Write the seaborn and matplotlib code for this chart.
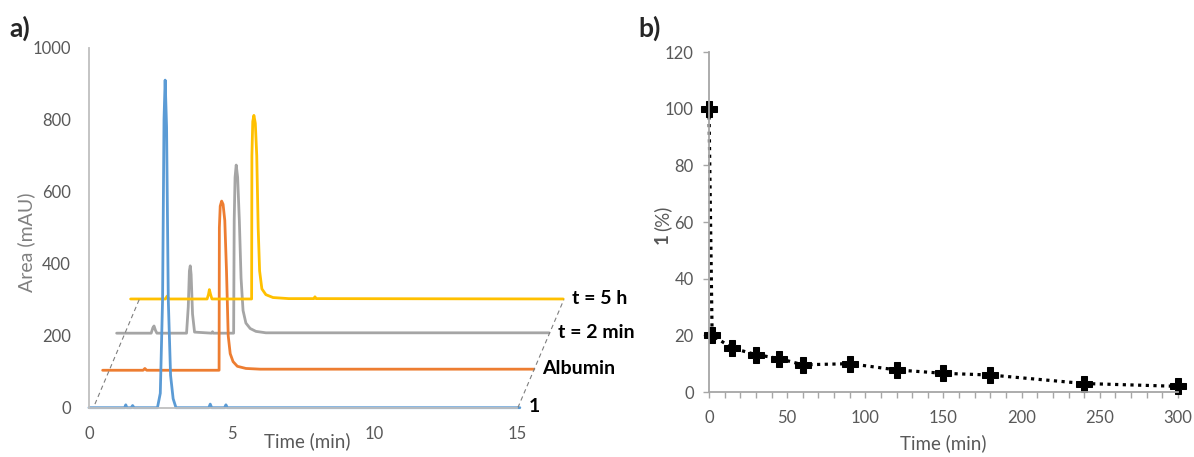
import numpy as np
import pandas as pd
import seaborn as sns
import matplotlib.pyplot as plt
from matplotlib.ticker import MultipleLocator

# chromatograms (panel a), already offset as in the stacked plot
blue_t = [0, 1.25, 1.29, 1.33, 1.48, 1.53, 1.58, 2.40, 2.50, 2.58, 2.63, 2.67, 2.72, 2.78,
          2.86, 2.95, 3.05, 4.20, 4.25, 4.30, 4.75, 4.80, 4.85, 15.1]
blue_y = [0, 0, 8, 0, 0, 6, 0, 0, 40, 300, 800, 910, 780, 300,
          90, 25, 0, 0, 10, 0, 0, 8, 0, 0]

orange_t = [0.48, 1.90, 1.96, 2.02, 4.56, 4.57, 4.60, 4.65, 4.70, 4.76, 4.82, 4.88, 4.95,
            5.05, 5.20, 5.50, 6.00, 15.59]
orange_y = [104, 104, 109, 104, 104, 500, 560, 574, 565, 520, 380, 200, 150,
            128, 115, 109, 107, 107]

gray_t = [0.97, 2.18, 2.24, 2.28, 2.33, 2.38, 3.42, 3.48, 3.52, 3.55, 3.58, 3.63, 3.70,
          4.30, 4.33, 4.36, 5.07, 5.09, 5.12, 5.16, 5.21, 5.27, 5.33, 5.40, 5.50, 5.65,
          5.85, 6.20, 16.12]
gray_y = [207, 207, 222, 227, 215, 207, 207, 280, 380, 394, 370, 260, 210,
          207, 211, 207, 207, 520, 640, 674, 640, 520, 360, 270, 235, 220,
          212, 208, 208]

yellow_t = [1.46, 2.68, 2.74, 2.80, 4.14, 4.19, 4.22, 4.26, 4.31, 5.70, 5.71, 5.74, 5.78,
            5.83, 5.88, 5.93, 5.98, 6.06, 6.20, 6.45, 7.00, 7.88, 7.92, 7.96, 16.62]
yellow_y = [302, 302, 310, 302, 302, 315, 328, 315, 302, 302, 700, 795, 812,
            790, 700, 500, 380, 330, 314, 306, 303, 303, 308, 303, 302]

trace_names = ["1", "Albumin", "t = 2 min", "t = 5 h"]

# dashed guide lines of the stacked view
guide_left_t = [0.21, 1.77]
guide_left_y = [10, 302]
guide_right_t = [15.03, 16.64]
guide_right_y = [0, 300]

# panel b: remaining 1 (%)
time_min = [0, 2, 15, 30, 45, 60, 90, 120, 150, 180, 240, 300]
remaining = [100, 20, 15.5, 13.2, 11.8, 9.6, 10, 7.8, 6.6, 6, 3, 2]

sns.set_theme(style="ticks")
plt.rcParams['font.family'] = ['Lato', 'DejaVu Sans']

tick_gray = "#595959"

fig = plt.figure(figsize=(11.94, 4.57), dpi=100)
ax1 = fig.add_axes([0.0745, 0.1079, 0.3585, 0.7877])
ax2 = fig.add_axes([0.5938, 0.1422, 0.3928, 0.7440])

# ---- panel a
traces = [(gray_t, gray_y, "#A5A5A5"), (orange_t, orange_y, "#ED7D31"),
          (yellow_t, yellow_y, "#FFC000"), (blue_t, blue_y, "#5B9BD5")]
for t, y, c in traces:
    sns.lineplot(x=t, y=y, ax=ax1, color=c, lw=2, sort=False, estimator=None,
                 clip_on=False)

for gt, gy in [(guide_left_t, guide_left_y), (guide_right_t, guide_right_y)]:
    ax1.plot(gt, gy, color="#7f7f7f", lw=0.8, ls=(0, (4, 3)), clip_on=False)

ends = [(blue_t[-1], blue_y[-1]), (orange_t[-1], orange_y[-1]),
        (gray_t[-1], gray_y[-1]), (yellow_t[-1], yellow_y[-1])]
for name, (et, ey) in zip(trace_names, ends):
    ax1.text(et + 0.3, ey + 2, name, fontsize=14, fontweight="bold",
             color="black", va="center", ha="left", clip_on=False)

ax1.set_xlim(0, 15)
ax1.set_ylim(0, 1000)
ax1.set_xticks([0, 5, 10, 15])
ax1.set_yticks(range(0, 1001, 200))
ax1.tick_params(length=0, labelsize=12, colors=tick_gray, pad=13)
ax1.tick_params(axis="x", pad=13)
for s in ["top", "right"]:
    ax1.spines[s].set_visible(False)
for s in ["left", "bottom"]:
    ax1.spines[s].set_color("#bfbfbf")
    ax1.spines[s].set_linewidth(1.3)
ax1.set_xlabel("Time (min)", fontsize=13.5, color=tick_gray)
ax1.xaxis.set_label_coords(0.51, -0.068)
ax1.set_ylabel("Area (mAU)", fontsize=14, color="#808080")
ax1.yaxis.set_label_coords(-0.125, 0.46)

# ---- panel b
df = pd.DataFrame({"time": time_min, "remaining": remaining})
sns.lineplot(data=df, x="time", y="remaining", ax=ax2, color="black",
             lw=2.3, ls=(0, (1, 1.4)), marker="P", markersize=12,
             markeredgecolor="black", clip_on=False)
ax2.set_xlim(0, 300)
ax2.set_ylim(0, 120)
ax2.set_xticks(range(0, 301, 50))
ax2.set_yticks(range(0, 121, 20))
ax2.xaxis.set_minor_locator(MultipleLocator(10))
ax2.tick_params(which="both", length=4, width=1, color="#a6a6a6",
                labelsize=12, labelcolor=tick_gray)
ax2.tick_params(axis="y", pad=7)
ax2.tick_params(axis="x", pad=9)
for s in ["top", "right"]:
    ax2.spines[s].set_visible(False)
for s in ["left", "bottom"]:
    ax2.spines[s].set_color("#a6a6a6")
    ax2.spines[s].set_linewidth(1.3)
ax2.set_xlabel("Time (min)", fontsize=13.5, color=tick_gray, labelpad=6)
ax2.set_ylabel("")
# y label "1 (%)" with the compound number in bold
ax2.text(-0.1, 0.466, "1", transform=ax2.transAxes, rotation=90, fontsize=13.5,
         fontweight="bold", color=tick_gray, ha="center", va="top")
ax2.text(-0.1, 0.474, "(%)", transform=ax2.transAxes, rotation=90, fontsize=13.5,
         color=tick_gray, ha="center", va="bottom")

fig.text(0.008, 0.938, "a)", fontsize=19, fontweight="bold", va="center")
fig.text(0.535, 0.938, "b)", fontsize=19, fontweight="bold", va="center")

fig.savefig("out.png", dpi=100)
